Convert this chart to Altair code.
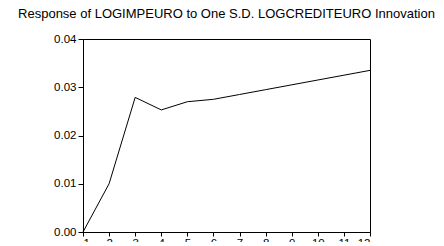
import altair as alt
import pandas as pd

periods = [1, 2, 3, 4, 5, 6, 7, 8, 9, 10, 11, 12]
response = [0.0000, 0.0100, 0.0279, 0.0253, 0.0270, 0.0275, 0.0285, 0.0295, 0.0305, 0.0315, 0.0325, 0.0335]
y_ticks = [0.00, 0.01, 0.02, 0.03, 0.04]
title_text = "Response of LOGIMPEURO to One S.D. LOGCREDITEURO Innovation"

df = pd.DataFrame({"period": periods, "response": response})

chart = alt.Chart(df).mark_line(color="black", strokeWidth=1).encode(
    x=alt.X("period:Q", scale=alt.Scale(domain=[1, 12], nice=False, zero=False),
            axis=alt.Axis(values=periods, title=None, format="d")),
    y=alt.Y("response:Q", scale=alt.Scale(domain=[0, 0.04], nice=False),
            axis=alt.Axis(values=y_ticks, title=None, format=".2f")),
).properties(
    width=287,
    height=193,
    title=alt.TitleParams(title_text, fontSize=13, font="Liberation Sans",
                          fontWeight="normal", color="black", anchor="middle", offset=12),
    autosize=alt.AutoSizeParams(type="none"),
    padding={"left": 75, "top": 31, "right": 66, "bottom": 10},
).configure(
    background="white"
).configure_view(
    stroke="black", strokeWidth=1
).configure_axis(
    grid=False, domainColor="black", tickColor="black",
    labelFont="Liberation Sans", labelFontSize=11.5, labelColor="black",
    domainWidth=1, tickWidth=1
).configure_axisX(
    tickSize=4, labelPadding=1
).configure_axisY(
    tickSize=5, labelPadding=2
)

chart.save("out.html", embed_options={"renderer": "svg", "actions": False})
